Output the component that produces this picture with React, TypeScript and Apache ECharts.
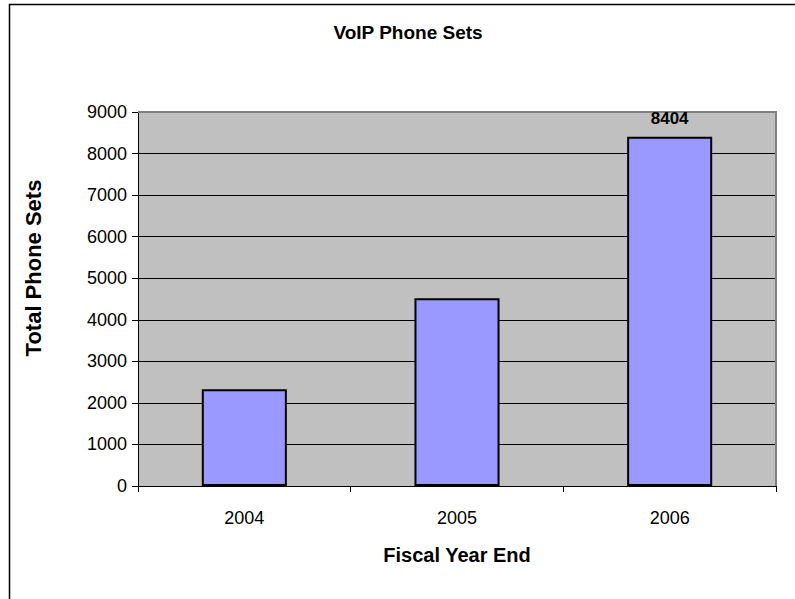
import React, { useEffect, useRef } from "react";
import * as echarts from "echarts";

const categories = ["2004", "2005", "2006"];
const phoneSets = [2330, 4520, 8404];
const yTicks = [0, 1000, 2000, 3000, 4000, 5000, 6000, 7000, 8000, 9000];
const yTitle = "Total Phone Sets";

export default function App() {
  const ref = useRef<HTMLDivElement>(null);
  useEffect(() => {
    const chart = echarts.init(ref.current!, null, { renderer: "svg" });
    const font = "'Liberation Sans', Arial, sans-serif";
    chart.setOption({
      animation: false,
      backgroundColor: "#ffffff",
      textStyle: { fontFamily: font },
      title: {
        text: "VoIP Phone Sets",
        left: 403,
        top: 18,
        textAlign: "center",
        textStyle: { fontFamily: font, fontSize: 19, fontWeight: "bold", color: "#000" },
      },
      graphic: [
        {
          type: "rect",
          shape: { x: 9.5, y: 4.5, width: 800, height: 600 },
          style: { fill: "none", stroke: "#000", lineWidth: 1.5 },
          z: 100,
        },
        {
          type: "polyline",
          shape: { points: [[138, 112], [776, 112], [776, 486]] },
          style: { fill: "none", stroke: "#808080", lineWidth: 2 },
          z: 1,
        },
        {
          type: "text",
          x: 33,
          y: 268,
          rotation: Math.PI / 2,
          style: {
            text: yTitle,
            fontFamily: font,
            fontSize: 22,
            fontWeight: "bold",
            fill: "#000",
            textAlign: "center",
            textVerticalAlign: "middle",
          },
        },
      ],
      grid: {
        left: 138,
        top: 112,
        width: 638,
        height: 374,
        show: true,
        backgroundColor: "#C0C0C0",
        borderWidth: 0,
      },
      xAxis: {
        type: "category",
        data: categories,
        name: "Fiscal Year End",
        nameLocation: "middle",
        nameGap: 59,
        nameTextStyle: { fontFamily: font, fontSize: 20, fontWeight: "bold", color: "#000" },
        axisLine: { show: true, lineStyle: { color: "#000", width: 1 } },
        axisTick: { show: true, alignWithLabel: false, length: 6, lineStyle: { color: "#000" } },
        axisLabel: { fontFamily: font, fontSize: 18, color: "#000", margin: 23 },
      },
      yAxis: {
        type: "value",
        min: 0,
        max: yTicks[yTicks.length - 1],
        interval: yTicks[1] - yTicks[0],
        axisLine: { show: true, lineStyle: { color: "#000", width: 1 } },
        axisTick: { show: true, length: 6, lineStyle: { color: "#000" } },
        axisLabel: {
          fontFamily: font,
          fontSize: 18,
          color: "#000",
          margin: 11,
          formatter: (v: number) => String(v),
        },
        splitLine: { show: true, lineStyle: { color: "#000", width: 1 } },
      },
      series: [
        {
          type: "bar",
          data: phoneSets,
          barWidth: "40%",
          itemStyle: { color: "#9999FF", borderColor: "#000", borderWidth: 2 },
          label: {
            show: true,
            position: "top",
            distance: 10,
            fontFamily: font,
            fontSize: 17,
            fontWeight: "bold",
            color: "#000",
            formatter: (p: any) => (p.dataIndex === 2 ? String(p.value) : ""),
          },
          z: 3,
        },
      ],
    });
    return () => chart.dispose();
  }, []);
  return <div ref={ref} style={{ width: 795, height: 599, position: "absolute", left: 0, top: 0 }} />;
}
